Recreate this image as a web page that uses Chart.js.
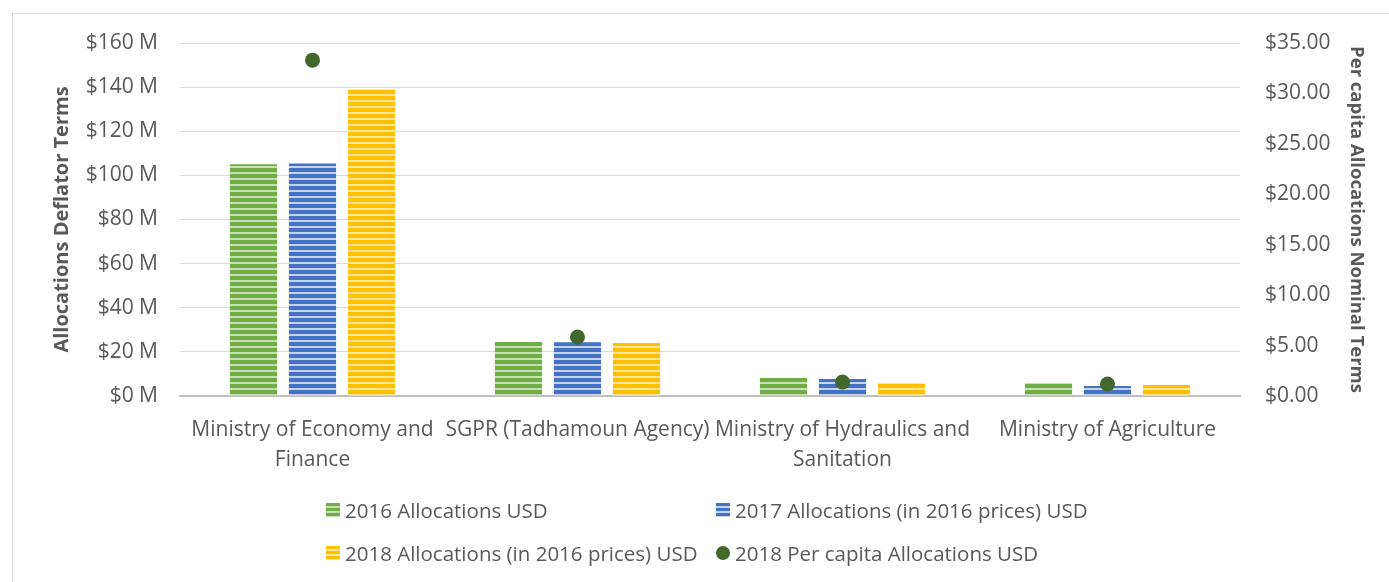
<!DOCTYPE html>
<html>
<head>
<meta charset="utf-8">
<script src="https://cdn.jsdelivr.net/npm/chart.js@4/dist/chart.umd.min.js"></script>
<style>
  html, body { margin: 0; padding: 0; background: #fff; overflow: hidden; }
  #wrap { position: relative; width: 1389px; height: 582px; }
  #frame { position: absolute; left: 12px; top: 13px; width: 1500px; height: 700px; border: 1px solid #d9d9d9; box-sizing: border-box; }
  canvas { position: absolute; left: 0; top: 0; }
  #legend { position: absolute; left: 326px; top: 497px; display: grid; grid-template-columns: 390px 390px; row-gap: 17px;
    font-family: "Open Sans", Lato, sans-serif; font-size: 20.5px; color: #595959; }
  .item { display: flex; align-items: center; height: 26px; white-space: nowrap; }
  .box { width: 14px; height: 14px; margin-right: 5px; }
  .dot { width: 14px; height: 14px; border-radius: 50%; margin-right: 5px; }
</style>
</head>
<body>
<div id="wrap">
  <div id="frame"></div>
  <canvas id="myChart" width="1389" height="582"></canvas>
  <div id="legend"></div>
</div>
<script>
// data
const categories = [['Ministry of Economy and', 'Finance'], 'SGPR (Tadhamoun Agency)', ['Ministry of Hydraulics and', 'Sanitation'], 'Ministry of Agriculture'];
const alloc2016 = [105.0, 24.5, 8.2, 5.9];
const alloc2017 = [105.4, 24.4, 7.7, 4.5];
const alloc2018 = [139.0, 24.0, 5.9, 5.0];
const perCapita2018 = [33.3, 5.85, 1.39, 1.19];
const leftTicks = [0, 20, 40, 60, 80, 100, 120, 140, 160];
const rightTicks = [0, 5, 10, 15, 20, 25, 30, 35];

const FONT = '"Open Sans", Lato, sans-serif';
const TXT = '#595959';

function stripes(color, light) {
  const c = document.createElement('canvas');
  c.width = 8; c.height = 6;
  const g = c.getContext('2d');
  g.fillStyle = color; g.fillRect(0, 0, 8, 6);
  g.fillStyle = light; g.fillRect(0, 4, 8, 2);
  return g.createPattern(c, 'repeat');
}

const series = [
  { label: '2016 Allocations USD', data: alloc2016, color: '#70AD47', light: '#c6e0b4' },
  { label: '2017 Allocations (in 2016 prices) USD', data: alloc2017, color: '#4472C4', light: '#c5d3ee' },
  { label: '2018 Allocations (in 2016 prices) USD', data: alloc2018, color: '#FFC000', light: '#ffe69c' }
];
const dotLabel = '2018 Per capita Allocations USD';
const dotColor = '#43682B';

const datasets = series.map(function (s) {
  return {
    type: 'bar',
    label: s.label,
    data: s.data,
    backgroundColor: stripes(s.color, s.light),
    borderWidth: 0,
    yAxisID: 'y',
    order: 1,
    categoryPercentage: 0.668,
    barPercentage: 0.8
  };
});
datasets.push({
  type: 'line',
  label: dotLabel,
  data: perCapita2018,
  showLine: false,
  pointRadius: 7.5,
  pointHoverRadius: 7.5,
  pointBackgroundColor: dotColor,
  pointBorderWidth: 0,
  borderColor: dotColor,
  yAxisID: 'y1',
  order: 0
});

var ctx = document.getElementById('myChart').getContext('2d');
var chart = new Chart(ctx, { // eslint-disable-line
  data: { labels: categories, datasets: datasets },
  options: {
    responsive: false,
    animation: false,
    layout: { padding: { left: 42, right: 20, top: 43, bottom: 110 } },
    plugins: { legend: { display: false }, tooltip: { enabled: false } },
    scales: {
      x: {
        grid: { display: false },
        border: { color: '#bfbfbf', width: 2 },
        ticks: { color: TXT, font: { family: FONT, size: 21, lineHeight: 1.43 }, padding: 11, maxRotation: 0, autoSkip: false },
        afterFit: function (scale) { scale.height = 76; }
      },
      y: {
        position: 'left',
        min: 0, max: 160,
        afterBuildTicks: function (scale) { scale.ticks = leftTicks.map(function (v) { return { value: v }; }); },
        grid: { color: function (c) { return c.tick && c.tick.value === 0 ? 'rgba(0,0,0,0)' : '#d9d9d9'; }, drawTicks: false },
        border: { display: false },
        ticks: { color: TXT, font: { family: FONT, size: 21 }, padding: 22, callback: function (v) { return '$' + v + ' M'; } },
        title: { display: true, text: 'Allocations Deflator Terms', color: TXT, font: { family: FONT, size: 20, weight: 'bold' }, padding: { top: 8, bottom: 0 } },
        afterFit: function (scale) { scale.width = 138; }
      },
      y1: {
        position: 'right',
        min: 0, max: 35,
        afterBuildTicks: function (scale) { scale.ticks = rightTicks.map(function (v) { return { value: v }; }); },
        grid: { drawOnChartArea: false, drawTicks: false },
        border: { display: false },
        ticks: { color: TXT, font: { family: FONT, size: 21 }, padding: 25, callback: function (v) { return '$' + v.toFixed(2); } },
        title: { display: true, text: 'Per capita Allocations Nominal Terms', color: TXT, font: { family: FONT, size: 18.5, weight: 'bold' }, padding: { top: 2, bottom: 0 } },
        afterFit: function (scale) { scale.width = 129; }
      }
    }
  }
});

// legend laid out in two fixed columns like the original
const legend = document.getElementById('legend');
series.concat([{ label: dotLabel, dot: true }]).forEach(function (s) {
  const item = document.createElement('div');
  item.className = 'item';
  const mark = document.createElement('span');
  if (s.dot) {
    mark.className = 'dot';
    mark.style.background = dotColor;
  } else {
    mark.className = 'box';
    mark.style.background = 'repeating-linear-gradient(180deg, ' + s.color + ' 0 3px, ' + s.light + ' 3px 5px)';
  }
  const text = document.createElement('span');
  text.textContent = s.label;
  item.appendChild(mark);
  item.appendChild(text);
  legend.appendChild(item);
});
</script>
</body>
</html>
